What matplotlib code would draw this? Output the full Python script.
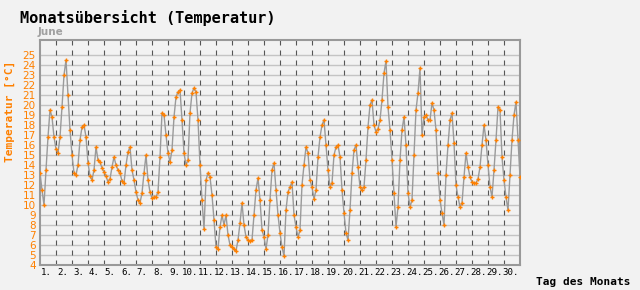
import numpy as np
import matplotlib
matplotlib.use("Agg")
import matplotlib.pyplot as plt

# readings every 3 hours (0h, 3h, ... 21h) for each day of June
hours = [0, 3, 6, 9, 12, 15, 18, 21]
days = list(range(1, 31))
temperature = [
    13.2, 11.5, 10.0, 13.5, 16.8, 19.5, 18.8, 16.8,   # 1
    15.6, 15.2, 16.8, 19.8, 23.0, 24.5, 21.0, 17.5,   # 2
    15.0, 13.2, 13.0, 14.0, 16.5, 17.8, 18.0, 16.8,   # 3
    14.2, 12.9, 12.5, 13.5, 15.8, 14.5, 14.3, 13.7,   # 4
    13.3, 12.9, 12.3, 12.6, 13.8, 14.8, 14.0, 13.5,   # 5
    13.2, 12.4, 12.2, 14.0, 15.3, 15.8, 13.5, 12.5,   # 6
    11.3, 10.5, 10.2, 11.2, 13.2, 15.0, 12.5, 11.3,   # 7
    10.7, 10.8, 10.8, 11.3, 14.8, 19.2, 19.0, 17.0,   # 8
    15.2, 14.3, 15.5, 18.8, 20.8, 21.3, 21.5, 18.5,   # 9
    15.2, 14.0, 14.5, 19.2, 21.2, 21.7, 21.3, 18.5,   # 10
    14.0, 10.5, 7.6, 12.5, 13.2, 12.8, 11.0, 8.5,     # 11
    5.8, 5.6, 7.8, 9.0, 8.0, 9.0, 7.0, 6.0,           # 12
    5.8, 5.6, 5.4, 6.5, 8.2, 10.2, 8.0, 6.8,          # 13
    6.5, 6.4, 6.5, 9.0, 11.5, 12.7, 10.5, 7.5,        # 14
    6.8, 5.6, 7.0, 10.5, 13.5, 14.2, 11.5, 9.0,       # 15
    7.2, 5.8, 4.9, 9.5, 11.3, 11.8, 12.3, 9.0,        # 16
    7.8, 6.8, 7.5, 12.0, 14.0, 15.8, 15.2, 12.5,      # 17
    11.8, 10.6, 11.5, 14.8, 16.8, 18.0, 18.5, 16.0,   # 18
    13.5, 11.8, 12.2, 15.0, 15.8, 16.0, 14.8, 11.5,   # 19
    9.2, 7.2, 6.5, 9.5, 13.2, 15.5, 16.0, 13.8,       # 20
    11.8, 11.5, 11.8, 14.5, 17.8, 20.0, 20.5, 18.0,   # 21
    17.3, 17.6, 18.5, 20.5, 23.2, 24.4, 19.8, 17.5,   # 22
    14.5, 11.2, 7.8, 9.8, 14.5, 17.5, 18.8, 16.0,     # 23
    11.2, 9.8, 10.5, 15.0, 19.5, 21.2, 23.7, 17.0,    # 24
    18.8, 19.0, 18.5, 18.5, 20.2, 19.5, 17.5, 13.2,   # 25
    10.5, 9.2, 8.0, 13.0, 16.0, 18.5, 19.2, 16.2,     # 26
    12.0, 10.8, 9.8, 10.2, 12.8, 15.2, 13.8, 12.8,    # 27
    12.3, 12.2, 12.2, 12.6, 13.8, 16.0, 18.0, 16.5,   # 28
    14.0, 11.8, 10.8, 13.5, 16.5, 19.8, 19.5, 14.8,   # 29
    12.5, 10.8, 9.5, 13.0, 16.5, 19.0, 20.3, 16.5,    # 30
    12.8,                                             # 1 July 0h
]
yticks = list(range(4, 26))

# time axis in days since 1 June 0h
t = [(d - 1) + h / 24 for d in days for h in hours] + [30.0]

bg = '#f2f2f2'
orange = '#ff8000'

fig = plt.figure(figsize=(6.4, 2.9), dpi=100, facecolor=bg)
ax = fig.add_axes([40 / 640, 25 / 290, 480 / 640, 225 / 290], facecolor=bg)

ax.plot(t, temperature, color='#9a9a9a', lw=1.0, zorder=3)
ax.plot(t, temperature, ls='none', marker='+', ms=3.5, mew=1.0, color=orange, zorder=4)

ax.set_xlim(0, 30)
ax.set_ylim(4, 26.5)

# grid
for y in yticks[1:]:
    ax.axhline(y, color='#c4c4c4', lw=1.0, zorder=1)
for d in range(1, 30):
    ax.axvline(d, color='#555555', lw=0.8, ls=(0, (4.5, 4.5)), zorder=2)

for s in ax.spines.values():
    s.set_color('#999999')
    s.set_linewidth(1.5)

ax.set_yticks(yticks)
ax.set_yticklabels([str(v) for v in yticks], color=orange, fontsize=7.5, family='DejaVu Sans')
ax.tick_params(axis='y', length=0, pad=3)
ax.set_xticks([])

for d in days:
    ax.text(d - 1 + 0.4, -0.015, f'{d}.', transform=ax.get_xaxis_transform(),
            ha='center', va='top', fontsize=6.6, family='DejaVu Sans Mono')

fig.text(20 / 640, 1 - 18 / 290, 'Monatsübersicht (Temperatur)', fontsize=11,
         family='DejaVu Sans Mono', fontweight='bold', va='center', ha='left')
fig.text(38 / 640, 1 - 32 / 290, 'June', fontsize=7.5, color='#a0a0a0',
         fontweight='bold', va='center', ha='left')
fig.text(10 / 640, 1 - 111 / 290, 'Temperatur [°C]', rotation=90, color=orange,
         fontsize=8, family='DejaVu Sans Mono', fontweight='bold', va='center', ha='center')
fig.text(536 / 640, 1 - 282 / 290, 'Tag des Monats', fontsize=8,
         family='DejaVu Sans Mono', fontweight='bold', va='center', ha='left')

plt.savefig('out.png', dpi=100, facecolor=bg)
